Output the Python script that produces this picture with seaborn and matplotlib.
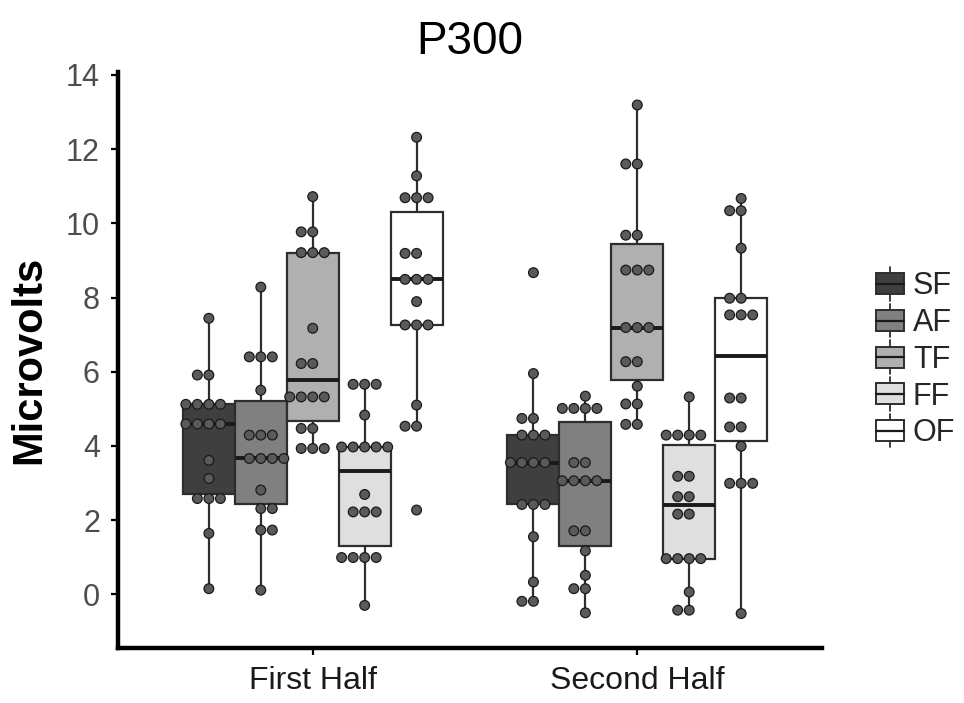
import matplotlib
matplotlib.use("Agg")
import matplotlib.pyplot as plt
from matplotlib.legend_handler import HandlerBase
from matplotlib.patches import Rectangle, Patch
from matplotlib.lines import Line2D
import seaborn as sns
import pandas as pd

# ---------------- data ----------------
halves = ["First Half", "Second Half"]
conditions = ["SF", "AF", "TF", "FF", "OF"]

first_SF = [7.44, 5.91, 5.91, 5.12, 5.12, 5.12, 5.12, 4.59, 4.59, 4.59, 4.59,
            3.61, 3.12, 2.58, 2.58, 2.58, 1.64, 0.15]
first_AF = [8.28, 6.40, 6.40, 6.40, 5.50, 4.29, 4.29, 4.29, 3.66, 3.66, 3.66,
            3.66, 2.81, 2.31, 2.31, 1.73, 1.73, 0.11]
first_TF = [10.72, 9.77, 9.77, 9.21, 9.21, 9.21, 7.17, 6.22, 6.22, 5.32, 5.32,
            5.32, 5.32, 4.47, 4.47, 3.93, 3.93, 3.93]
first_FF = [5.66, 5.66, 5.66, 4.83, 3.97, 3.97, 3.97, 3.97, 3.97, 2.69, 2.22,
            2.22, 2.22, 0.99, 0.99, 0.99, 0.99, -0.30]
first_OF = [12.32, 11.28, 10.69, 10.69, 10.69, 9.19, 9.19, 8.49, 8.49, 8.49,
            7.89, 7.26, 7.26, 7.26, 5.10, 4.53, 4.53, 2.27]

second_SF = [8.67, 5.95, 4.74, 4.74, 4.29, 4.29, 4.29, 3.55, 3.55, 3.55, 3.55,
             2.42, 2.42, 2.42, 1.55, 0.33, -0.19, -0.19]
second_AF = [5.34, 5.01, 5.01, 5.01, 5.01, 3.55, 3.55, 3.06, 3.06, 3.06, 3.06,
             1.71, 1.71, 1.17, 0.51, 0.15, 0.15, -0.50]
second_TF = [13.19, 11.60, 11.60, 9.68, 9.68, 8.74, 8.74, 8.74, 7.19, 7.19, 7.19,
             6.27, 6.27, 5.61, 5.13, 5.13, 4.58, 4.58]
second_FF = [5.32, 4.29, 4.29, 4.29, 4.29, 3.18, 3.18, 2.63, 2.63, 2.16, 2.16,
             0.96, 0.96, 0.96, 0.96, 0.06, -0.43, -0.43]
second_OF = [10.67, 10.34, 10.34, 9.33, 7.98, 7.98, 7.53, 7.53, 7.53, 5.29, 5.29,
             4.51, 4.51, 3.99, 2.99, 2.99, 2.99, -0.52]

y_ticks = [0, 2, 4, 6, 8, 10, 12, 14]

series = {
    ("First Half", "SF"): first_SF, ("First Half", "AF"): first_AF,
    ("First Half", "TF"): first_TF, ("First Half", "FF"): first_FF,
    ("First Half", "OF"): first_OF,
    ("Second Half", "SF"): second_SF, ("Second Half", "AF"): second_AF,
    ("Second Half", "TF"): second_TF, ("Second Half", "FF"): second_FF,
    ("Second Half", "OF"): second_OF,
}
rows = []
for (h, c), vals in series.items():
    for v in vals:
        rows.append({"half": h, "cond": c, "value": v})
df = pd.DataFrame(rows)

# ---------------- style ----------------
sns.set_theme(style="white")
plt.rcParams["font.family"] = ["Liberation Sans", "DejaVu Sans"]

box_colors = {"SF": "#3f3f3f", "AF": "#808080", "TF": "#b0b0b0",
              "FF": "#dfdfdf", "OF": "#ffffff"}
dot_colors = {c: "#5a5a5a" for c in conditions}
edge = "#2e2e2e"

fig = plt.figure(figsize=(9.64, 7.03), dpi=100)
ax = fig.add_axes([0.1224, 0.0782, 0.7306, 0.8194])

sns.boxplot(data=df, x="half", y="value", hue="cond", order=halves,
            hue_order=conditions, palette=box_colors, width=0.8, gap=0,
            saturation=1, showfliers=False, showcaps=False, whis=1.5,
            linewidth=1.6, linecolor=edge,
            medianprops={"color": "#1a1a1a", "linewidth": 2.8},
            legend=False, ax=ax)

sns.swarmplot(data=df, x="half", y="value", hue="cond", order=halves,
              hue_order=conditions, palette=dot_colors, dodge=True,
              size=7.0, edgecolor="#1a1a1a", linewidth=0.9,
              legend=False, ax=ax)

ax.set_xlim(-0.6, 1.57)
ax.set_ylim(-1.45, 14.08)
ax.set_yticks(y_ticks)
ax.set_yticklabels([str(t) for t in y_ticks])

for s in ["top", "right"]:
    ax.spines[s].set_visible(False)
for s in ["left", "bottom"]:
    ax.spines[s].set_linewidth(3.2)
    ax.spines[s].set_color("black")

ax.tick_params(axis="both", which="major", length=5, width=1.6,
               color="black", direction="out", left=True, bottom=True)
ax.tick_params(axis="y", labelsize=22, labelcolor="#4d4d4d", pad=8)
ax.tick_params(axis="x", labelsize=23, labelcolor="#1a1a1a", pad=8)

ax.set_xlabel("")
ax.set_ylabel("Microvolts", fontsize=30, fontweight="bold", color="black",
              labelpad=12)
fig.suptitle("P300", fontsize=33, x=0.487, y=0.972, color="black")


# ---------------- legend with boxplot glyphs ----------------
class BoxGlyph(HandlerBase):
    def create_artists(self, legend, orig_handle, xdescent, ydescent,
                       width, height, fontsize, trans):
        fc = orig_handle.get_facecolor()
        x0 = -xdescent
        y0 = -ydescent
        bh = height
        rect = Rectangle((x0, y0), width, bh, facecolor=fc,
                         edgecolor=edge, linewidth=1.4, transform=trans)
        xm = x0 + width / 2
        med = Line2D([x0, x0 + width], [y0 + bh / 2, y0 + bh / 2],
                     color="#1a1a1a", linewidth=1.6, transform=trans)
        wt = Line2D([xm, xm], [y0 + bh, y0 + bh + height * 0.3],
                    color=edge, linewidth=1.3, transform=trans)
        wb = Line2D([xm, xm], [y0, y0 - height * 0.3],
                    color=edge, linewidth=1.3, transform=trans)
        return [rect, med, wt, wb]


handles = [Patch(facecolor=box_colors[c], edgecolor=edge) for c in conditions]
fig.legend(handles, conditions, handler_map={Patch: BoxGlyph()},
           loc="center left", bbox_to_anchor=(0.909, 0.488), frameon=False,
           fontsize=22, handlelength=0.92, handleheight=0.68,
           handletextpad=0.28, labelspacing=0.22, borderpad=0,
           borderaxespad=0)

fig.savefig("out.png", dpi=100, facecolor="white")
